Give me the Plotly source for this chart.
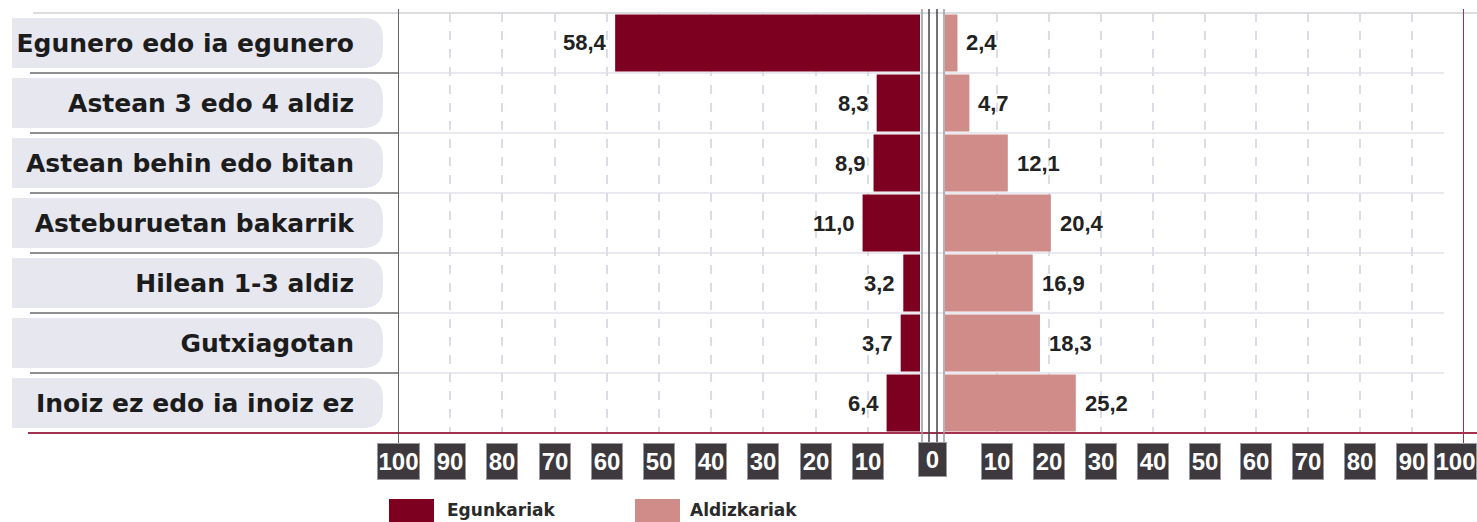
import plotly.graph_objects as go

# ---------------- data ----------------
categories = ["Egunero edo ia egunero", "Astean 3 edo 4 aldiz", "Astean behin edo bitan",
              "Asteburuetan bakarrik", "Hilean 1-3 aldiz", "Gutxiagotan",
              "Inoiz ez edo ia inoiz ez"]
egunkariak = [58.4, 8.3, 8.9, 11.0, 3.2, 3.7, 6.4]
aldizkariak = [2.4, 4.7, 12.1, 20.4, 16.9, 18.3, 25.2]
series_names = ["Egunkariak", "Aldizkariak"]
tick_values = [0, 10, 20, 30, 40, 50, 60, 70, 80, 90, 100]

# ---------------- style / layout ----------------
W, H = 1477, 522
C_DARK = "#7d0020"
C_PINK = "#d08c89"
C_RED_LINE = "#a3304f"
C_PILL = "#e7e7ef"
C_GRID = "#dcdce6"
C_BOX = "#3e393d"

xL0, xL1 = 398, 920      # left panel pixel extent (100 -> 0)
xR0, xR1 = 945, 1464     # right panel pixel extent (0 -> 100)
yTop, yBot = 13, 433     # plot area pixel extent
n = len(categories)
row_h = (yBot - yTop) / n


def px(x):
    return x / W


def py(y):
    return 1 - y / H


def fmt(v):
    return f"{v:.1f}".replace(".", ",")


fig = go.Figure()
fig.add_trace(go.Bar(name=series_names[0], y=categories, x=egunkariak, orientation="h",
                     marker=dict(color=C_DARK, line=dict(width=0)),
                     xaxis="x", yaxis="y", showlegend=False))
fig.add_trace(go.Bar(name=series_names[1], y=categories, x=aldizkariak, orientation="h",
                     marker=dict(color=C_PINK, line=dict(width=0)),
                     xaxis="x2", yaxis="y", showlegend=False))

shapes = []
annotations = []

# label pills (rounded right end)
r = 20
for i in range(n):
    t = yTop + row_h * i + 5
    b = t + row_h - 10
    x0, x1 = 12, 383
    path = (f"M {px(x0)},{py(t)} L {px(x1 - r)},{py(t)} "
            f"Q {px(x1)},{py(t)} {px(x1)},{py(t + r)} "
            f"L {px(x1)},{py(b - r)} "
            f"Q {px(x1)},{py(b)} {px(x1 - r)},{py(b)} "
            f"L {px(x0)},{py(b)} Z")
    shapes.append(dict(type="path", path=path, xref="paper", yref="paper",
                       fillcolor=C_PILL, line=dict(width=0), layer="below"))

# row separators
for i in range(1, n):
    y = yTop + row_h * i
    shapes.append(dict(type="line", xref="paper", yref="paper", x0=px(30), x1=px(xL0),
                       y0=py(y), y1=py(y), line=dict(color="#6a6a6e", width=1.5), layer="below"))
    shapes.append(dict(type="line", xref="paper", yref="paper", x0=px(xL0), x1=px(xR1 - 20),
                       y0=py(y), y1=py(y), line=dict(color="#e2e2ea", width=1.5), layer="below"))
# top line
shapes.append(dict(type="line", xref="paper", yref="paper", x0=px(33), x1=1,
                   y0=py(yTop), y1=py(yTop), line=dict(color="#cfcfd6", width=1.5), layer="below"))
# bottom red line
shapes.append(dict(type="line", xref="paper", yref="paper", x0=px(28), x1=1,
                   y0=py(yBot), y1=py(yBot), line=dict(color=C_RED_LINE, width=2)))
# left axis line at 100
shapes.append(dict(type="line", xref="x", yref="paper", x0=100, x1=100,
                   y0=py(9), y1=py(443), line=dict(color="#333333", width=1.5)))
# right red line at 100
shapes.append(dict(type="line", xref="x2", yref="paper", x0=100, x1=100,
                   y0=py(9), y1=py(443), line=dict(color=C_RED_LINE, width=2)))
# central lines
for xc, col in [(922, "#9a9aa0"), (929, "#444448"), (937, "#444448"), (944, "#9a9aa0")]:
    shapes.append(dict(type="line", xref="paper", yref="paper", x0=px(xc), x1=px(xc),
                       y0=py(9), y1=py(442), line=dict(color=col, width=1.5)))

# value labels
val_font = dict(family="Liberation Sans, Arial, sans-serif", size=22, color="#222222", weight="bold")
for c, v in zip(categories, egunkariak):
    annotations.append(dict(x=v, y=c, xref="x", yref="y", text=fmt(v), showarrow=False,
                            xanchor="right", xshift=-6, font=val_font))
for c, v in zip(categories, aldizkariak):
    annotations.append(dict(x=v, y=c, xref="x2", yref="y", text=fmt(v), showarrow=False,
                            xanchor="left", xshift=7, font=val_font))

# tick boxes
box_font = dict(family="Liberation Sans, Arial, sans-serif", size=24, color="white", weight="bold")
ybox = py(461)
for v in tick_values[1:]:
    w = 41 if v == 100 else 30
    for xr in ("x", "x2"):
        anchor, shift = "center", 0
        if xr == "x2" and v == 100:
            anchor, shift = "right", 13
        annotations.append(dict(x=v, y=ybox, xref=xr, yref="paper", text=str(v), showarrow=False,
                                xanchor=anchor, xshift=shift, yanchor="middle", width=w, height=35,
                                bgcolor=C_BOX, bordercolor="#9a9aa0", borderwidth=1, borderpad=0,
                                font=box_font))
annotations.append(dict(x=px((xL1 + xR0) / 2), y=py(459), xref="paper", yref="paper",
                        text=str(tick_values[0]), showarrow=False, xanchor="center",
                        yanchor="middle", width=27, height=33, bgcolor=C_BOX,
                        bordercolor="#9a9aa0", borderwidth=1, borderpad=0, font=box_font))

# legend
leg_font = dict(family="DejaVu Sans, sans-serif", size=17, color="#2a2a2a", weight="bold")
for (x0, x1, tx), col, name in [((389, 434, 445), C_DARK, series_names[0]),
                                ((635, 680, 688), C_PINK, series_names[1])]:
    shapes.append(dict(type="rect", xref="paper", yref="paper", x0=px(x0), x1=px(x1),
                       y0=py(499), y1=py(522), fillcolor=col, line=dict(width=0)))
    annotations.append(dict(x=px(tx), y=py(510), xref="paper", yref="paper", text=name,
                            showarrow=False, xanchor="left", yanchor="middle", font=leg_font))

fig.update_layout(
    width=W, height=H,
    margin=dict(l=0, r=0, t=0, b=0),
    paper_bgcolor="white", plot_bgcolor="rgba(0,0,0,0)",
    bargap=0.05,
    showlegend=False,
    xaxis=dict(domain=[px(xL0), px(xL1)], range=[100, 0], tickvals=tick_values[1:-1],
               showticklabels=False, showgrid=True, gridcolor=C_GRID, griddash="dash",
               gridwidth=1.5, zeroline=False, showline=False, anchor="y", fixedrange=True),
    xaxis2=dict(domain=[px(xR0), px(xR1)], range=[0, 100], tickvals=tick_values[1:-1],
                showticklabels=False, showgrid=True, gridcolor=C_GRID, griddash="dash",
                gridwidth=1.5, zeroline=False, showline=False, anchor="y", fixedrange=True),
    yaxis=dict(domain=[py(yBot), py(yTop)], categoryorder="array", categoryarray=categories,
               autorange="reversed", showgrid=False, zeroline=False, showline=False,
               ticks="", ticklabelstandoff=43,
               tickfont=dict(family="DejaVu Sans, sans-serif", size=25, color="#1c1c1c",
                             weight="bold"),
               anchor="x", fixedrange=True),
    shapes=shapes,
    annotations=annotations,
)

fig.write_html("out.html", config={"displayModeBar": False},
               post_script="document.body.style.margin='0px';document.body.style.overflow='hidden';")
